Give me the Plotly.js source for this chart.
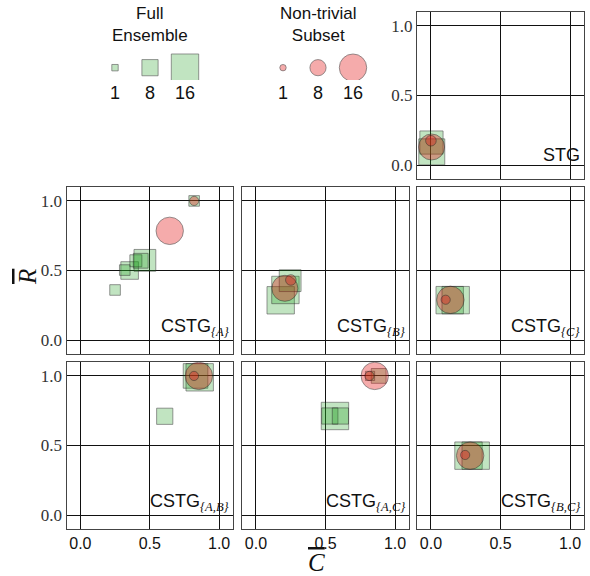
<!DOCTYPE html>
<html><head><meta charset="utf-8">
<script src="https://cdn.plot.ly/plotly-3.0.1.min.js"></script>
<style>html,body{margin:0;padding:0;background:#fff}#chart{width:590px;height:576px}</style>
</head><body><div id="chart"></div>
<script>
// ---------------- data ----------------
const panelNames = ['STG', 'CSTG', 'CSTG', 'CSTG', 'CSTG', 'CSTG', 'CSTG'];
const panelSubs  = ['', '{A}', '{B}', '{C}', '{A,B}', '{A,C}', '{B,C}'];
const tickVals = [0, 0.5, 1];
const tickText = ['0.0', '0.5', '1.0'];
const legendCounts = [1, 8, 16];

// Full Ensemble (green squares): panel index, mean C, mean R, count
const fullPanel = [0, 0, 1, 1, 1, 1, 1, 1, 1, 2, 2, 2, 3, 3, 4, 4, 4, 5, 5, 5, 5, 5, 6, 6];
const fullC = [0.004, 0.006, 0.25, 0.355, 0.32, 0.465, 0.40, 0.435, 0.82, 0.178, 0.212, 0.246, 0.135, 0.178, 0.608, 0.83, 0.86, 0.568, 0.531, 0.607, 0.882, 0.82, 0.27, 0.322];
const fullR = [0.162, 0.095, 0.36, 0.50, 0.503, 0.573, 0.57, 0.57, 1.0, 0.286, 0.36, 0.427, 0.287, 0.287, 0.71, 1.0, 0.99, 0.712, 0.712, 0.712, 1.0, 1.0, 0.427, 0.427];
const fullN = [13, 15, 4, 9, 4, 12, 5, 7, 4, 16, 16, 12, 16, 16, 8, 14, 16, 16, 8, 8, 7, 3, 16, 16];

// Non-trivial Subset (red circles)
const subPanel = [0, 0, 1, 1, 2, 2, 3, 3, 4, 4, 5, 5, 6, 6];
const subC = [0.005, 0.0, 0.644, 0.82, 0.208, 0.251, 0.14, 0.106, 0.854, 0.819, 0.854, 0.816, 0.282, 0.246];
const subR = [0.13, 0.175, 0.785, 1.0, 0.372, 0.432, 0.289, 0.29, 1.0, 1.0, 1.0, 1.0, 0.427, 0.432];
const subN = [15, 4, 16, 3, 15, 4, 16, 3, 16, 3, 16, 3, 16, 3];

// ---------------- styling / layout ----------------
const W = 590, H = 576;
const GREEN = 'rgba(34,160,34,0.4)';
const RED = 'rgba(228,18,18,0.5)';
const EDGE = 'rgba(30,30,30,0.65)';
const sz = n => 5 + 1.4 * n;
const fx = (a, b) => [a / W, b / W];
const fy = (top, bot) => [1 - bot / H, 1 - top / H];

const cols = [fx(66.5, 233), fx(242, 409), fx(417, 584)];
const rows = [fy(12, 179), fy(187, 354), fy(362, 529)];
// panel -> [col,row]
const pos = [[2, 0], [0, 1], [1, 1], [2, 1], [0, 2], [1, 2], [2, 2]];
const showY = [true, true, false, false, true, false, false];
const showX = [false, false, false, false, true, true, true];

const layout = {
  width: W, height: H, margin: {l: 0, r: 0, t: 0, b: 0},
  paper_bgcolor: '#fff', plot_bgcolor: '#fff', showlegend: false,
  annotations: [], font: {family: 'Liberation Sans', color: '#111'}
};
const traces = [];

function dataAxis(dom, labels, isY, anchor) {
  return {
    domain: dom, range: [-0.1, 1.1], tickvals: tickVals, ticktext: tickText,
    showticklabels: labels, showgrid: true, gridcolor: '#111', gridwidth: 1,
    zeroline: false, showline: true, mirror: true, linecolor: '#444', linewidth: 1,
    ticks: '', anchor: anchor, fixedrange: true,
    tickfont: isY ? {family: 'Liberation Serif', size: 17, color: '#333'}
                  : {family: 'Liberation Sans', size: 16, color: '#111'}
  };
}

// legend axes (1 and 2)
const legY = fy(52, 80);
[[fx(97.5, 202.5), 'x', 'y', ''], [fx(265.5, 370.5), 'x2', 'y2', '2']].forEach(([dom, xa, ya, s]) => {
  layout['xaxis' + s] = {domain: dom, type: 'category', range: [-0.5, 2.5], showgrid: false,
    zeroline: false, showline: false, ticks: '', anchor: ya, fixedrange: true,
    tickfont: {family: 'Liberation Sans', size: 18, color: '#111'}};
  layout['yaxis' + s] = {domain: legY, range: [-0.786, 1], visible: false, anchor: xa, fixedrange: true};
});
traces.push({type: 'scatter', mode: 'markers', xaxis: 'x', yaxis: 'y',
  x: legendCounts.map(String), y: legendCounts.map(() => 0),
  marker: {symbol: 'square', size: legendCounts.map(sz), color: GREEN, line: {color: EDGE, width: 1}},
  hoverinfo: 'skip'});
traces.push({type: 'scatter', mode: 'markers', xaxis: 'x2', yaxis: 'y2',
  x: legendCounts.map(String), y: legendCounts.map(() => 0),
  marker: {symbol: 'circle', size: legendCounts.map(sz), color: RED, line: {color: EDGE, width: 1}},
  hoverinfo: 'skip'});
layout.annotations.push({xref: 'x domain', yref: 'paper', x: 0.5, y: 1 - 24.7 / H, xanchor: 'center', yanchor: 'middle',
  text: 'Full<br>Ensemble', showarrow: false, font: {family: 'Liberation Sans', size: 17, color: '#111'}});
layout.annotations.push({xref: 'x2 domain', yref: 'paper', x: 0.5, y: 1 - 24.7 / H, xanchor: 'center', yanchor: 'middle',
  text: 'Non-trivial<br>Subset', showarrow: false, font: {family: 'Liberation Sans', size: 17, color: '#111'}});

// data panels: axes 3..9
const sqTraces = [], ciTraces = [];
panelNames.forEach((name, p) => {
  const k = p + 3;
  const [c, r] = pos[p];
  layout['xaxis' + k] = dataAxis(cols[c], showX[p], false, 'y' + k);
  layout['yaxis' + k] = dataAxis(rows[r], showY[p], true, 'x' + k);
  const fi = fullPanel.map((v, i) => v === p ? i : -1).filter(i => i >= 0);
  const si = subPanel.map((v, i) => v === p ? i : -1).filter(i => i >= 0);
  sqTraces.push({type: 'scatter', mode: 'markers', xaxis: 'x' + k, yaxis: 'y' + k,
    x: fi.map(i => fullC[i]), y: fi.map(i => fullR[i]),
    marker: {symbol: 'square', size: fi.map(i => sz(fullN[i])), color: GREEN, line: {color: EDGE, width: 1}},
    hoverinfo: 'skip', cliponaxis: true});
  ciTraces.push({type: 'scatter', mode: 'markers', xaxis: 'x' + k, yaxis: 'y' + k,
    x: si.map(i => subC[i]), y: si.map(i => subR[i]),
    marker: {symbol: 'circle', size: si.map(i => sz(subN[i])), color: RED, line: {color: EDGE, width: 1}},
    hoverinfo: 'skip', cliponaxis: true});
  const label = panelSubs[p]
    ? name + '<sub><span style="font-family:Liberation Serif;font-style:italic">' + panelSubs[p] + '</span></sub>'
    : name;
  layout.annotations.push({xref: 'x' + k, yref: 'y' + k, x: 1.085, y: panelSubs[p] ? -0.01 : 0.07,
    xanchor: 'right', yanchor: panelSubs[p] ? 'bottom' : 'middle', showarrow: false, text: label,
    font: {family: 'Liberation Sans', size: 18, color: '#111'}});
});
traces.push(...sqTraces, ...ciTraces);

// axis titles
layout.annotations.push({xref: 'paper', yref: 'paper', x: 27 / W, y: 1 - 277 / H, xanchor: 'center', yanchor: 'middle',
  textangle: -90, showarrow: false,
  text: '<span style="text-decoration:overline">R</span>',
  font: {family: 'Liberation Serif', size: 25, style: 'italic', color: '#111'}});
layout.annotations.push({xref: 'paper', yref: 'paper', x: 316 / W, y: 1 - 562 / H, xanchor: 'center', yanchor: 'middle',
  showarrow: false,
  text: '<span style="text-decoration:overline">C</span>',
  font: {family: 'Liberation Serif', size: 25, style: 'italic', color: '#111'}});

Plotly.newPlot('chart', traces, layout, {staticPlot: true, displayModeBar: false});
</script>
</body></html>
